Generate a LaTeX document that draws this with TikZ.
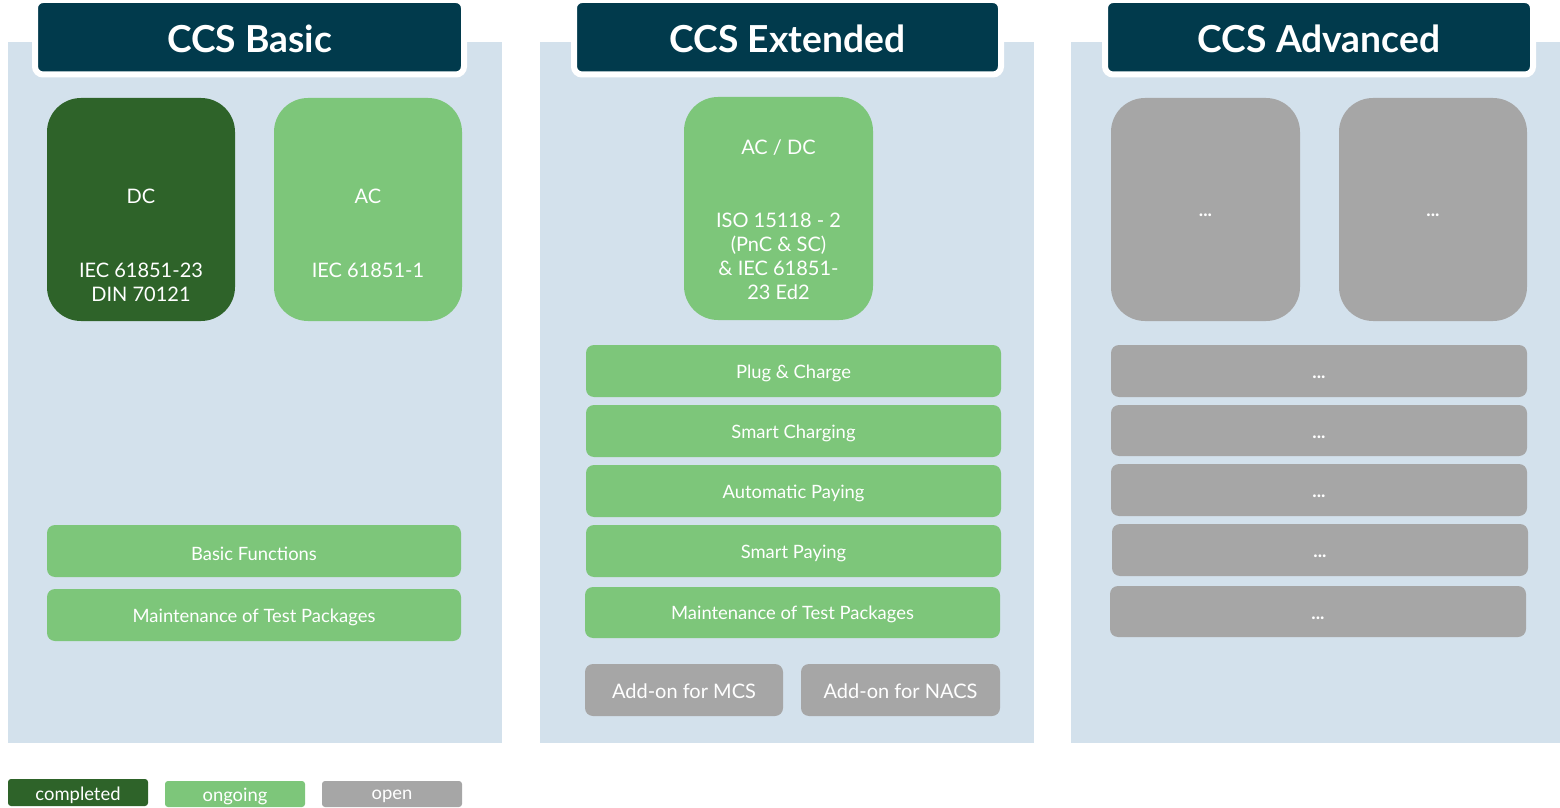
\documentclass[tikz,border=0pt]{standalone}
\usepackage{fontspec}
\setmainfont{Lato}
\usetikzlibrary{fit}
\definecolor{panel}{HTML}{D3E1EC}
\definecolor{headc}{HTML}{013A4C}
\definecolor{dgreen}{HTML}{2E6329}
\definecolor{lgreen}{HTML}{7DC67A}
\definecolor{openc}{HTML}{A6A6A6}
\begin{document}
\begin{tikzpicture}[x=0.5pt,y=-0.5pt,
  panelbox/.style={fill=panel, inner sep=0pt},
  header/.style={fill=headc, draw=white, line width=3pt, rounded corners=4pt, inner sep=0pt},
  headtext/.style={text=white, inner sep=0pt, yshift=-1pt, font=\bfseries\fontsize{18.6}{22}\selectfont},
  bigbox/.style={rounded corners=17pt, inner sep=0pt},
  boxtext/.style={text=white, align=center, inner sep=0pt, font=\fontsize{10}{12}\selectfont},
  bar/.style={rounded corners=4pt, inner sep=0pt},
  bartext/.style={text=white, inner sep=0pt, yshift=-1.2pt, font=\fontsize{9.2}{11}\selectfont},
  dotstext/.style={text=white, inner sep=0pt, yshift=-3.2pt, font=\bfseries\fontsize{9.2}{11}\selectfont},
  addon/.style={rounded corners=4pt, inner sep=0pt, fill=openc},
  addontext/.style={text=white, inner sep=0pt, yshift=-0.5pt, font=\fontsize{10}{12}\selectfont},
  legend/.style={rounded corners=1.5pt, inner sep=0pt},
  legendtext/.style={text=white, inner sep=0pt, yshift=-1.2pt, font=\fontsize{9.2}{11}\selectfont},
]
\useasboundingbox (0,0) rectangle (1560,808);
% panels
\node[panelbox, fit={(8,42) (502,743)}] (p1) {};
\node[panelbox, fit={(540,42) (1034,743)}] (p2) {};
\node[panelbox, fit={(1071,42) (1560,743)}] (p3) {};
% headers
\node[header, fit={(35,0) (464,74.5)}] (h1) {};
\node[headtext] (h1t) at (h1.center) {CCS Basic};
\node[header, fit={(574,0) (1001,74.5)}] (h2) {};
\node[headtext] (h2t) at (h2.center) {CCS Extended};
\node[header, fit={(1105,0) (1533,74.5)}] (h3) {};
\node[headtext] (h3t) at (h3.center) {CCS Advanced};
% CCS Basic
\node[bigbox, fill=dgreen, fit={(47,98) (235,321)}] (dc) {};
\node[boxtext] (dct) at (141,196) {DC};
\node[boxtext] (dcs) at (141,282) {IEC 61851-23\\DIN 70121};
\node[bigbox, fill=lgreen, fit={(274,98) (462,321)}] (ac) {};
\node[boxtext] (act) at (368,196) {AC};
\node[boxtext] (acs) at (368,270) {IEC 61851-1};
\node[bar, fill=lgreen, fit={(47,525) (461,577)}] (bf) {};
\node[bartext] (bft) at (bf.center) {Basic Functions};
\node[bar, fill=lgreen, fit={(47,589) (461,641)}] (mt1) {};
\node[bartext] (mt1t) at (mt1.center) {Maintenance of Test Packages};
% CCS Extended
\node[bigbox, fill=lgreen, fit={(684,97) (873,320)}] (acdc) {};
\node[boxtext] (acdct) at (778.5,148) {AC / DC};
\node[boxtext] (acdcs) at (778.5,256.5) {ISO 15118 - 2\\(PnC \& SC)\\\& IEC 61851-\\23 Ed2};
\node[bar, fill=lgreen, fit={(586,345) (1001,397)}] (pc) {};
\node[bartext] (pct) at (pc.center) {Plug \& Charge};
\node[bar, fill=lgreen, fit={(586,405) (1001,457)}] (sc) {};
\node[bartext] (sct) at (sc.center) {Smart Charging};
\node[bar, fill=lgreen, fit={(586,465) (1001,517)}] (ap) {};
\node[bartext] (apt) at (ap.center) {Automatic Paying};
\node[bar, fill=lgreen, fit={(586,525) (1001,577)}] (sp) {};
\node[bartext] (spt) at (sp.center) {Smart Paying};
\node[bar, fill=lgreen, fit={(585,587) (1000,638)}] (mt2) {};
\node[bartext] (mt2t) at (mt2.center) {Maintenance of Test Packages};
\node[addon, fit={(585,664) (783,716)}] (mcs) {};
\node[addontext] (mcst) at (mcs.center) {Add-on for MCS};
\node[addon, fit={(801,664) (1000,716)}] (nacs) {};
\node[addontext] (nacst) at (nacs.center) {Add-on for NACS};
% CCS Advanced
\node[bigbox, fill=openc, fit={(1111,98) (1300,321)}] (g1) {};
\node[dotstext, yshift=2.5pt] (g1t) at (1205.5,214) {...};
\node[bigbox, fill=openc, fit={(1339,98) (1527,321)}] (g2) {};
\node[dotstext, yshift=2.5pt] (g2t) at (1433,214) {...};
\node[bar, fill=openc, fit={(1111,345) (1527,397)}] (r1) {};
\node[dotstext] (r1t) at (r1.center) {...};
\node[bar, fill=openc, fit={(1111,405) (1527,456)}] (r2) {};
\node[dotstext] (r2t) at (r2.center) {...};
\node[bar, fill=openc, fit={(1111,464) (1527,516)}] (r3) {};
\node[dotstext] (r3t) at (r3.center) {...};
\node[bar, fill=openc, fit={(1112,524) (1528,576)}] (r4) {};
\node[dotstext] (r4t) at (r4.center) {...};
\node[bar, fill=openc, fit={(1110,586) (1526,637)}] (r5) {};
\node[dotstext] (r5t) at (r5.center) {...};
% legend
\node[legend, fill=dgreen, fit={(8,779) (148,806)}] (lc) {};
\node[legendtext] (lct) at (lc.center) {completed};
\node[legend, fill=lgreen, fit={(165,781) (305,807)}] (lo) {};
\node[legendtext] (lot) at (lo.center) {ongoing};
\node[legend, fill=openc, fit={(322,781) (462,807)}] (lp) {};
\node[legendtext] (lpt) at (lp.center) {open};
\end{tikzpicture}
\end{document}
